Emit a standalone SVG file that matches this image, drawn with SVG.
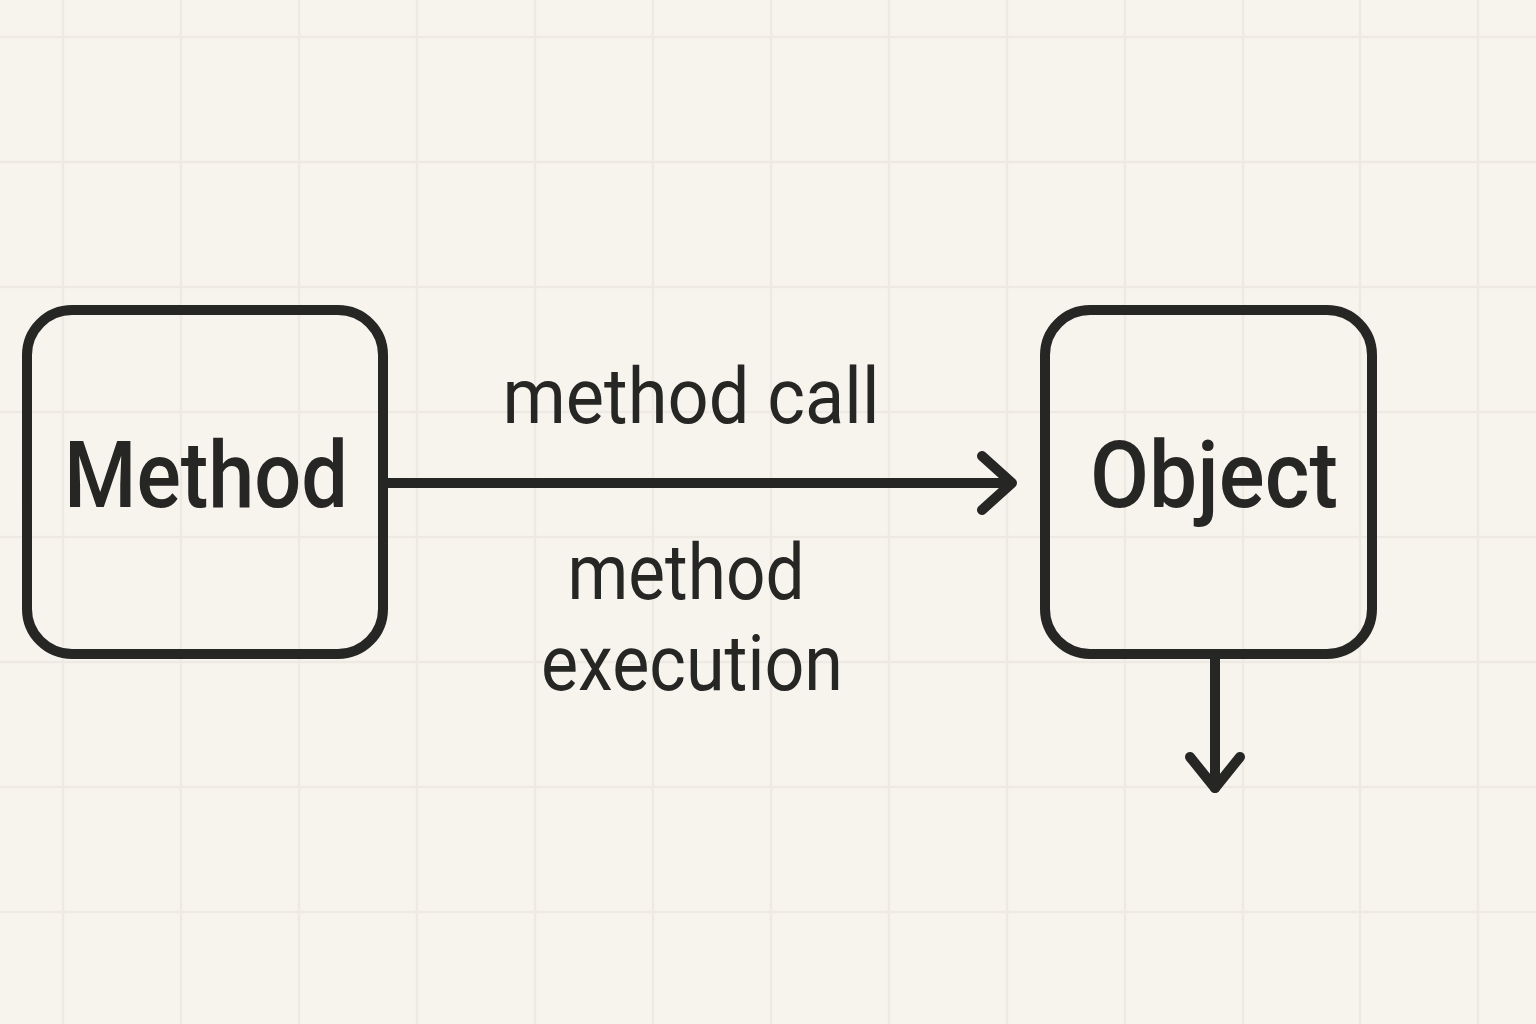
<svg xmlns="http://www.w3.org/2000/svg" width="1536" height="1024" viewBox="0 0 1536 1024">
  <style>
    .grid line { stroke: #eeeae3; stroke-width: 2.5; }
    .box { fill: none; stroke: #262624; stroke-width: 10; }
    .conn { fill: none; stroke: #262624; stroke-width: 10; stroke-linecap: round; stroke-linejoin: round; }
    .title { font-family: Roboto, "Liberation Sans", sans-serif; font-weight: 500; font-size: 92px; fill: #262624; text-anchor: middle; }
    .label { font-family: Roboto, "Liberation Sans", sans-serif; font-weight: 400; font-size: 78px; fill: #262624; text-anchor: middle; }
  </style>
  <rect x="0" y="0" width="1536" height="1024" fill="#f7f4ee"/>
  <g class="grid">
    <line x1="63" y1="0" x2="63" y2="1024"/>
    <line x1="181" y1="0" x2="181" y2="1024"/>
    <line x1="299" y1="0" x2="299" y2="1024"/>
    <line x1="417" y1="0" x2="417" y2="1024"/>
    <line x1="535" y1="0" x2="535" y2="1024"/>
    <line x1="653" y1="0" x2="653" y2="1024"/>
    <line x1="771" y1="0" x2="771" y2="1024"/>
    <line x1="889" y1="0" x2="889" y2="1024"/>
    <line x1="1007" y1="0" x2="1007" y2="1024"/>
    <line x1="1125" y1="0" x2="1125" y2="1024"/>
    <line x1="1243" y1="0" x2="1243" y2="1024"/>
    <line x1="1360" y1="0" x2="1360" y2="1024"/>
    <line x1="1478" y1="0" x2="1478" y2="1024"/>
    <line x1="0" y1="37" x2="1536" y2="37"/>
    <line x1="0" y1="162" x2="1536" y2="162"/>
    <line x1="0" y1="287" x2="1536" y2="287"/>
    <line x1="0" y1="412" x2="1536" y2="412"/>
    <line x1="0" y1="537" x2="1536" y2="537"/>
    <line x1="0" y1="662" x2="1536" y2="662"/>
    <line x1="0" y1="787" x2="1536" y2="787"/>
    <line x1="0" y1="912" x2="1536" y2="912"/>
  </g>
  <g id="connectors">
    <path class="conn" d="M388 483 H1011"/>
    <path class="conn" d="M982 456 L1012 483 L982 510"/>
    <path class="conn" d="M1215 658 V788"/>
    <path class="conn" d="M1190 757 L1215 788 L1240 757"/>
  </g>
  <g id="node-method">
    <rect class="box" x="27" y="310" width="356" height="344" rx="45"/>
    <text class="title" x="206" y="507" textLength="284" lengthAdjust="spacingAndGlyphs">Method</text>
  </g>
  <g id="node-object">
    <rect class="box" x="1045" y="310" width="327" height="344" rx="45"/>
    <text class="title" x="1214" y="507" textLength="248" lengthAdjust="spacingAndGlyphs">Object</text>
  </g>
  <g id="labels">
    <text class="label" x="691" y="423" textLength="377" lengthAdjust="spacingAndGlyphs">method call</text>
    <text class="label" x="686" y="599" textLength="237" lengthAdjust="spacingAndGlyphs">method</text>
    <text class="label" x="692" y="690" textLength="302" lengthAdjust="spacingAndGlyphs">execution</text>
  </g>
</svg>
